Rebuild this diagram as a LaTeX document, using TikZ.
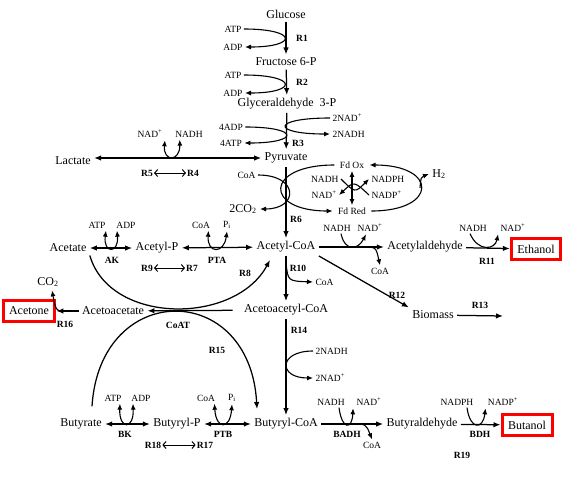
\documentclass[tikz,border=0pt]{standalone}
\usepackage{fontspec}
\setmainfont{Liberation Serif}
\usetikzlibrary{arrows.meta, positioning, calc}
\tikzset{
  met/.style={font=\fontsize{12}{14}\selectfont, inner sep=1.5pt, outer sep=2pt},
  cof/.style={font=\fontsize{9.5}{11}\selectfont, inner sep=1pt, outer sep=1.5pt},
  rxn/.style={font=\bfseries\fontsize{9.5}{11}\selectfont, inner sep=1pt},
  prod/.style={met, draw=red, line width=3pt, inner xsep=6pt, inner ysep=6.5pt, outer sep=1.5pt},
  flux/.style={line width=1.25pt, -{Latex[length=7pt,width=5.5pt]}},
  rev/.style={line width=1.25pt, {Latex[length=7pt,width=5.5pt]}-{Latex[length=7pt,width=5.5pt]}},
  side/.style={line width=1.1pt, -{Latex[length=6pt,width=5pt]}},
  dual/.style={line width=1.1pt, {Latex[length=6pt,width=5pt]}-{Latex[length=6pt,width=5pt]}},
  openrev/.style={line width=1pt, {Straight Barb[length=3pt,width=7pt]}-{Straight Barb[length=3pt,width=7pt]}}
}
\begin{document}
\begin{tikzpicture}[x=1pt, y=-1pt]
  \useasboundingbox (0,0) rectangle (579,480);

  % glycolysis
  \node[met] (glc) at (286,14) {Glucose};
  \node[met] (f6p) at (286,62) {Fructose 6-P};
  \node[met] (g3p) at (287,104) {Glyceraldehyde\ \ 3-P};
  \node[met] (pyr) at (286,158) {Pyruvate};
  \draw[flux] (glc) -- (f6p);
  \draw[flux] (f6p) -- (g3p);
  \draw[flux] (g3p) -- (pyr);

  \node[cof] (atp1) at (233,29) {ATP};
  \node[cof] (adp1) at (233,47) {ADP};
  \draw[side] (atp1.east) .. controls (298,29) and (298,47) .. (adp1.east);
  \node[rxn] (r1) at (302,38) {R1};

  \node[cof] (atp2) at (233,75) {ATP};
  \node[cof] (adp2) at (233,93) {ADP};
  \draw[side] (atp2.east) .. controls (298,75) and (298,93) .. (adp2.east);
  \node[rxn] (r2) at (302,82) {R2};

  \node[cof] (adp3) at (231,127) {4ADP};
  \node[cof] (atp3) at (231,143) {4ATP};
  \draw[side] (adp3.east) .. controls (300,127) and (300,143) .. (atp3.east);
  \node[cof, anchor=west] (nad3) at (330,118) {2NAD\textsuperscript{+}};
  \node[cof, anchor=west] (nadh3) at (330,134) {2NADH};
  \draw[side] (nad3.west) .. controls (271,118) and (271,134) .. (nadh3.west);
  \node[rxn] (r3) at (298,143) {R3};

  % lactate
  \node[met] (lac) at (73,161) {Lactate};
  \draw[rev] (lac.east |- pyr.west) -- (pyr.west);
  \node[cof] (nad5) at (150,134) {NAD\textsuperscript{+}};
  \node[cof] (nadh5) at (189,134) {NADH};
  \draw[dual] (nad5.south east) .. controls (163,162) and (180,162) .. ([xshift=7pt]nadh5.south west);
  \node[rxn] (r5) at (147,173) {R5};
  \node[rxn] (r4) at (193,173) {R4};
  \draw[openrev] (r5) -- (r4);

  % pyruvate to acetyl-CoA
  \node[met] (accoa) at (286,247) {Acetyl-CoA};
  \draw[flux] (pyr) -- (accoa);
  \node[rxn] (r6) at (296,219) {R6};
  \node[cof, anchor=east] (coa6) at (258,175) {CoA};
  \node[met, anchor=east] (co2a) at (260,209) {2CO\textsubscript{2}};
  \draw[side] (coa6.east) .. controls (299,175) and (299,209) .. (co2a.east);

  % ferredoxin loop
  \node[cof, inner xsep=4pt] (fdox) at (352,165) {Fd Ox};
  \node[cof, inner xsep=4pt] (fdred) at (352,211) {Fd Red};
  \draw[side] (fdox.west) .. controls (264,165) and (264,211) .. (fdred.west);
  \draw[side] (fdred.east) .. controls (438,211) and (438,165) .. (fdox.east);
  \draw[dual] (fdox) -- (fdred);
  \coordinate (h2x) at (420,188);
  \node[met] (h2) at (439,174) {H\textsubscript{2}};
  \draw[side] (h2x) .. controls (421,177) .. (h2.west);
  \node[cof, anchor=east] (nadhf) at (341,179) {NADH};
  \node[cof, anchor=west] (nadphf) at (369,179) {NADPH};
  \node[cof, anchor=east] (nadf) at (339,195) {NAD\textsuperscript{+}};
  \node[cof, anchor=west] (nadpf) at (369,195) {NADP\textsuperscript{+}};
  \draw[side] (nadhf.east) .. controls (355,193) .. (nadphf.west);
  \draw[side] (nadpf.west) .. controls (354,181) .. (nadf.east);

  % ethanol branch
  \node[met] (acald) at (425,247) {Acetylaldehyde};
  \draw[flux] (accoa) -- (acald);
  \node[cof] (nadha) at (337,228) {NADH};
  \node[cof] (nada) at (370,228) {NAD\textsuperscript{+}};
  \draw[side] ([xshift=4pt]nadha.south) .. controls (345,252) and (358,250) .. ([xshift=-4pt]nada.south);
  \coordinate (coaax) at (363,247);
  \node[cof] (coaa) at (380,271) {CoA};
  \draw[side] (coaax) .. controls (376,247) .. (coaa.north);

  \node[prod] (etoh) at (536,249) {Ethanol};
  \draw[flux] (acald) -- (etoh);
  \node[cof] (nadhe) at (473,228) {NADH};
  \node[cof] (nade) at (513,228) {NAD\textsuperscript{+}};
  \draw[side] ([xshift=-3pt]nadhe.south) .. controls (478,252) and (495,250) .. (nade.south west);
  \node[rxn] (r11) at (487,261) {R11};

  % biomass
  \node[met] (bio) at (433,315) {Biomass};
  \draw[flux] (accoa.south east) -- (bio.north west);
  \coordinate (bioout) at (503,316);
  \draw[flux] (bio) -- (bioout);
  \node[rxn] (r12) at (397,295) {R12};
  \node[rxn] (r13) at (480,305) {R13};

  % acetoacetyl-CoA
  \node[met] (aacoa) at (286,310) {Acetoacetyl-CoA};
  \draw[flux] (accoa) -- (aacoa);
  \node[rxn] (r10) at (298,268) {R10};
  \coordinate (coa10x) at (286,263);
  \node[cof, anchor=west] (coa10) at (313,282) {CoA};
  \draw[side] (coa10x) .. controls (288,281) .. (coa10.west);

  \node[met] (aca) at (113,311) {Acetoacetate};
  \draw[flux, shorten <=8pt] (aacoa) -- (aca);
  \node[prod] (acetone) at (29,311) {Acetone};
  \draw[flux] (aca) -- (acetone);
  \node[met] (co2b) at (48,282) {CO\textsubscript{2}};
  \coordinate (co2x) at (72,311);
  \draw[side] (co2x) .. controls (56,312) .. ([xshift=4pt]co2b.south);
  \node[rxn] (r16) at (65,324) {R16};
  \node[rxn] (coat) at (178,325) {CoAT};

  % acetate
  \node[met] (ac) at (68,248) {Acetate};
  \node[met] (acp) at (157,248) {Acetyl-P};
  \draw[rev] (ac) -- (acp);
  \draw[rev] (acp) -- (accoa);
  \node[cof] (atpak) at (97,225) {ATP};
  \node[cof] (adpak) at (126,225) {ADP};
  \draw[dual] ([xshift=-2pt]atpak.south east) .. controls (103,254) and (119,254) .. ([xshift=3pt]adpak.south west);
  \node[rxn] (ak) at (112,260) {AK};
  \node[cof] (coapta) at (201,225) {CoA};
  \node[cof] (pipta) at (227,225) {P\textsubscript{i}};
  \draw[dual] ([xshift=-4pt]coapta.south east) .. controls (207,254) and (224,254) .. (pipta.south);
  \node[rxn] (pta) at (217,260) {PTA};
  \node[rxn] (r9) at (147,268) {R9};
  \node[rxn] (r7) at (192,268) {R7};
  \draw[openrev] (r9) -- (r7);
  \node[rxn] (r8) at (245,273) {R8};
  \draw[flux] (ac.south east) .. controls (110,325) and (235,325) .. ([xshift=-16pt,yshift=-4pt]accoa.south);

  % butyrate and butanol
  \node[met] (but) at (81,424) {Butyrate};
  \node[met] (butp) at (177,424) {Butyryl-P};
  \node[met] (bucoa) at (286,424) {Butyryl-CoA};
  \draw[flux] (aacoa) -- (bucoa);
  \draw[rev] (but) -- (butp);
  \draw[rev] (butp) -- (bucoa);
  \node[cof] (atpbk) at (113,398) {ATP};
  \node[cof] (adpbk) at (141,398) {ADP};
  \draw[dual] ([xshift=-4pt]atpbk.south east) .. controls (119,430) and (134,430) .. ([xshift=4pt]adpbk.south west);
  \node[rxn] (bk) at (125,434) {BK};
  \node[cof] (coaptb) at (206,398) {CoA};
  \node[cof] (piptb) at (232,398) {P\textsubscript{i}};
  \draw[dual] ([xshift=-3pt]coaptb.south east) .. controls (216,430) and (230,430) .. (piptb.south);
  \node[rxn] (ptb) at (223,434) {PTB};
  \node[rxn] (r18) at (153,445) {R18};
  \node[rxn] (r17) at (205,445) {R17};
  \draw[openrev] (r18) -- (r17);
  \node[rxn] (r15) at (217,350) {R15};
  \draw[flux] ([xshift=11pt,yshift=9pt]but.north) .. controls (100,280) and (250,280) .. ([xshift=-29pt,yshift=6pt]bucoa.north);

  \node[rxn] (r14) at (299,330) {R14};
  \node[cof, anchor=west] (nadh14) at (313,351) {2NADH};
  \node[cof, anchor=west] (nad14) at (313,378) {2NAD\textsuperscript{+}};
  \draw[side] (nadh14.west) .. controls (278,351) and (278,378) .. (nad14.west);

  \node[met] (bual) at (422,424) {Butyraldehyde};
  \draw[flux] (bucoa) -- (bual);
  \node[cof] (nadhb) at (331,402) {NADH};
  \node[cof] (nadb) at (369,402) {NAD\textsuperscript{+}};
  \draw[side] ([xshift=8pt]nadhb.south) .. controls (342,430) and (352,430) .. ([xshift=-1pt]nadb.south west);
  \coordinate (coabx) at (352,424);
  \node[cof] (coab) at (372,445) {CoA};
  \draw[side] (coabx) .. controls (366,424) .. (coab.north);
  \node[rxn] (badh) at (347,434) {BADH};

  \node[prod] (buoh) at (527,425) {Butanol};
  \draw[flux] (bual) -- (buoh);
  \node[cof] (nadphb) at (457,402) {NADPH};
  \node[cof] (nadpb) at (503,402) {NADP\textsuperscript{+}};
  \draw[side] ([xshift=10pt]nadphb.south) .. controls (470,430) and (483,430) .. (nadpb.south west);
  \node[rxn] (bdh) at (480,434) {BDH};
  \node[rxn] (r19) at (462,455) {R19};
\end{tikzpicture}
\end{document}
